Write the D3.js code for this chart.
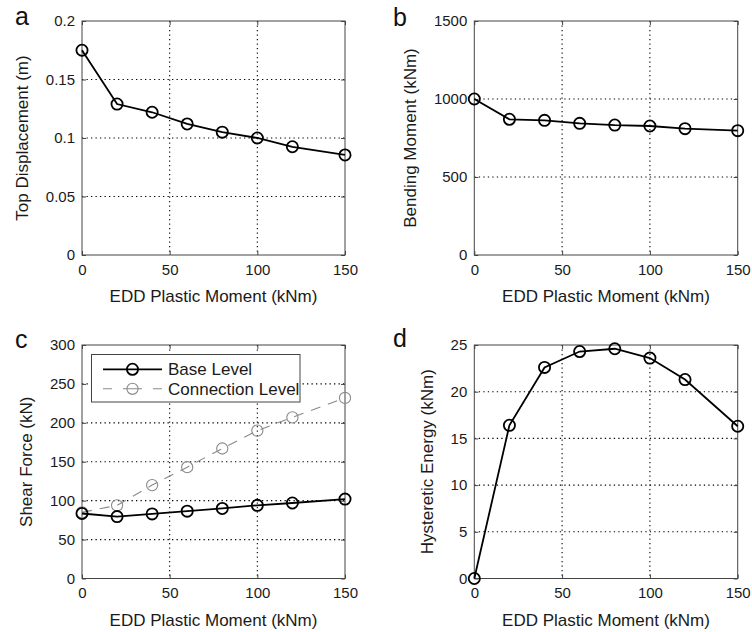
<!DOCTYPE html>
<html>
<head>
  <meta charset="UTF-8">
  <title>EDD plastic moment study</title>
  <style>
    body { margin: 0; background: #fff; }
    svg { display: block; font-family: "Liberation Sans", Arial, Helvetica, sans-serif; }
  </style>
</head>
<body>
<svg></svg>
<script src="https://d3js.org/d3.v7.min.js"></script>
<script>
    let width = 752, height = 632;

    // data
    var plasticMoment = [0, 20, 40, 60, 80, 100, 120, 150];
    var topDisplacement = [0.175, 0.129, 0.122, 0.112, 0.105, 0.100, 0.0925, 0.0855];
    var bendingMoment = [1000, 870, 863, 844, 833, 827, 810, 797];
    var shearBase = [83.5, 79.5, 83, 86.5, 90, 94, 97, 102];
    var shearConnection = [85, 94, 120, 143, 167, 190, 207, 232];
    var hystereticEnergy = [0, 16.4, 22.6, 24.3, 24.6, 23.6, 21.3, 16.3];

    var xTicks = [0, 50, 100, 150];
    var xLabel = "EDD Plastic Moment (kNm)";
    var legendLabels = ["Base Level", "Connection Level"];

    let svg = d3.select("svg")
        .attr("width", width)
        .attr("height", height);

    // panel frames (plot area)
    var panels = [
        {id: "a", x0: 82, x1: 345, y0: 21, y1: 255, ydom: [0, 0.2], yticks: [0, 0.05, 0.1, 0.15, 0.2],
         fmt: d => d === 0 ? "0" : String(d), ylabel: "Top Displacement (m)",
         series: [{values: topDisplacement, style: "base"}], lab: [15, 25]},
        {id: "b", x0: 474.3, x1: 737.7, y0: 21, y1: 255, ydom: [0, 1500], yticks: [0, 500, 1000, 1500],
         fmt: String, ylabel: "Bending Moment (kNm)",
         series: [{values: bendingMoment, style: "base"}], lab: [393, 26]},
        {id: "c", x0: 82, x1: 345, y0: 345, y1: 578.5, ydom: [0, 300], yticks: [0, 50, 100, 150, 200, 250, 300],
         fmt: String, ylabel: "Shear Force (kN)",
         series: [{values: shearConnection, style: "conn"}, {values: shearBase, style: "base"}], lab: [15, 348], legend: true},
        {id: "d", x0: 474.3, x1: 737.7, y0: 345, y1: 578.5, ydom: [0, 25], yticks: [0, 5, 10, 15, 20, 25],
         fmt: String, ylabel: "Hysteretic Energy (kNm)",
         series: [{values: hystereticEnergy, style: "base"}], lab: [393, 347]}
    ];

    var styles = {
        base: {stroke: "#000", width: 1.8, dash: null, mstroke: "#000", mwidth: 1.8},
        conn: {stroke: "#8a8a8a", width: 1.1, dash: "10,8", mstroke: "#8a8a8a", mwidth: 1.1}
    };

    panels.forEach(function(p) {
        var x = d3.scaleLinear().domain([0, 150]).range([p.x0, p.x1]);
        var y = d3.scaleLinear().domain(p.ydom).range([p.y1, p.y0]);
        var g = svg.append("g").attr("class", "panel-" + p.id);

        // dotted grid
        g.append("g").selectAll("line.gx")
            .data(xTicks.slice(1, -1))
            .enter().append("line")
            .attr("x1", d => x(d)).attr("x2", d => x(d))
            .attr("y1", p.y0).attr("y2", p.y1)
            .attr("stroke", "#000").attr("stroke-width", 1.1)
            .attr("stroke-dasharray", "1.3,3.2");
        g.append("g").selectAll("line.gy")
            .data(p.yticks.slice(1, -1))
            .enter().append("line")
            .attr("x1", p.x0).attr("x2", p.x1)
            .attr("y1", d => y(d)).attr("y2", d => y(d))
            .attr("stroke", "#000").attr("stroke-width", 1.1)
            .attr("stroke-dasharray", "1.3,3.2");

        // axes with inward ticks
        var xAxis = g.append("g")
            .attr("transform", "translate(0," + p.y1 + ")")
            .call(d3.axisBottom(x).tickValues(xTicks).tickSizeInner(-4).tickSizeOuter(0).tickPadding(9));
        var yAxis = g.append("g")
            .attr("transform", "translate(" + p.x0 + ",0)")
            .call(d3.axisLeft(y).tickValues(p.yticks).tickFormat(p.fmt).tickSizeInner(-4).tickSizeOuter(0).tickPadding(7));
        [xAxis, yAxis].forEach(function(a) {
            a.select(".domain").remove();
            a.selectAll("line").attr("stroke", "#444");
            a.selectAll("text").attr("font-size", 15).attr("fill", "#1a1a1a")
                .attr("font-family", "'Liberation Sans', Arial, sans-serif");
        });
        xAxis.selectAll(".tick line").clone().attr("transform", "translate(0," + (p.y0 - p.y1) + ")").attr("y2", 4);
        yAxis.selectAll(".tick line").clone().attr("transform", "translate(" + (p.x1 - p.x0) + ",0)").attr("x2", -4);

        // box
        g.append("rect")
            .attr("x", p.x0).attr("y", p.y0)
            .attr("width", p.x1 - p.x0).attr("height", p.y1 - p.y0)
            .attr("fill", "none").attr("stroke", "#444").attr("stroke-width", 1);

        // axis labels
        g.append("text")
            .attr("x", (p.x0 + p.x1) / 2).attr("y", p.y1 + 47)
            .attr("text-anchor", "middle")
            .attr("font-size", 17).attr("fill", "#1a1a1a")
            .text(xLabel);
        var tickLeft = yAxis.node().getBBox().x;
        g.append("text")
            .attr("transform", "translate(" + (p.x0 + tickLeft - 18) + "," + ((p.y0 + p.y1) / 2) + ") rotate(-90)")
            .attr("text-anchor", "middle")
            .attr("font-size", 17).attr("fill", "#1a1a1a")
            .text(p.ylabel);

        // panel letter
        g.append("text")
            .attr("x", p.lab[0]).attr("y", p.lab[1])
            .attr("font-size", 25).attr("fill", "#111")
            .text(p.id);

        // lines and markers
        var line = d3.line().x((d, i) => x(plasticMoment[i])).y(d => y(d));
        p.series.forEach(function(s) {
            var st = styles[s.style];
            g.append("path")
                .datum(s.values)
                .attr("d", line)
                .attr("fill", "none")
                .attr("stroke", st.stroke)
                .attr("stroke-width", st.width)
                .attr("stroke-dasharray", st.dash);
            g.append("g").selectAll("circle")
                .data(s.values)
                .enter().append("circle")
                .attr("cx", (d, i) => x(plasticMoment[i]))
                .attr("cy", d => y(d))
                .attr("r", 5.6)
                .attr("fill", "none")
                .attr("stroke", st.mstroke)
                .attr("stroke-width", st.mwidth);
        });

        // legend
        if (p.legend) {
            var lg = g.append("g");
            lg.append("rect")
                .attr("x", 91.5).attr("y", 354.5)
                .attr("width", 208.5).attr("height", 47.5)
                .attr("fill", "#fff").attr("stroke", "#444").attr("stroke-width", 1);
            var items = [{label: legendLabels[0], style: "base"}, {label: legendLabels[1], style: "conn"}];
            var ls = 19.5;
            items.forEach(function(it, i) {
                var st = styles[it.style];
                var yy = 369.3 + i * ls;
                lg.append("line")
                    .attr("x1", 103).attr("x2", 162)
                    .attr("y1", yy).attr("y2", yy)
                    .attr("stroke", st.stroke).attr("stroke-width", st.width)
                    .attr("stroke-dasharray", it.style === "conn" ? "9,11,19,11,10" : null);
                lg.append("circle")
                    .attr("cx", 132.5).attr("cy", yy).attr("r", 5.6)
                    .attr("fill", "none")
                    .attr("stroke", st.mstroke).attr("stroke-width", st.mwidth);
                lg.append("text")
                    .attr("x", 168).attr("y", yy + 6)
                    .attr("font-size", 17).attr("fill", "#1a1a1a")
                    .text(it.label);
            });
        }
    });
</script>
</body>
</html>
